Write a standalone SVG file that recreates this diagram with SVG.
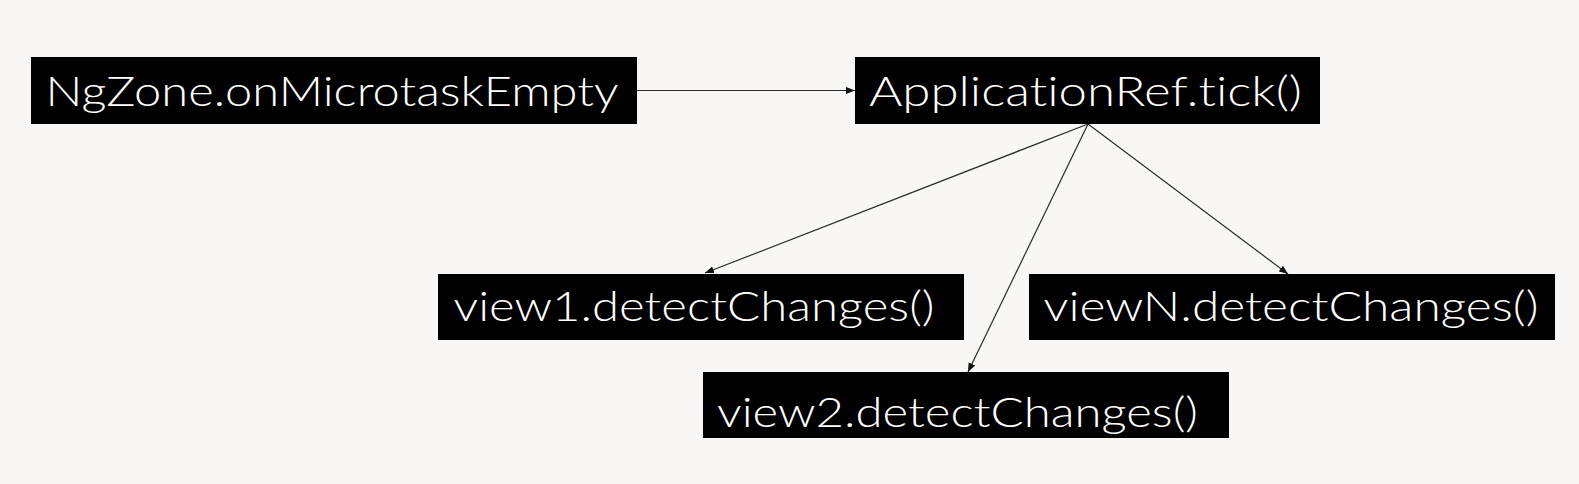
<svg xmlns="http://www.w3.org/2000/svg" width="1579" height="484" viewBox="0 0 1579 484">
<style>
.box{fill:#000}
.lbl{fill:#fff;font-family:Lato,"Open Sans",sans-serif;font-size:42px;font-weight:300;font-variant-ligatures:none}
.edge{stroke:#2a2a2a;stroke-width:1.2;fill:none}
</style>
<defs>
<marker id="ah" viewBox="0 0 10 10" refX="10" refY="5" markerWidth="9" markerHeight="9" markerUnits="userSpaceOnUse" orient="auto">
<path d="M0,1 L10,5 L0,9 z" fill="#111"/>
</marker>
</defs>
<rect width="1579" height="484" fill="#f8f7f6"/>
<g id="connectors">
<line class="edge" x1="637" y1="90.5" x2="855" y2="90.5" marker-end="url(#ah)"/>
<line class="edge" x1="1088" y1="124" x2="705" y2="273" marker-end="url(#ah)"/>
<line class="edge" x1="1088" y1="124" x2="968" y2="372" marker-end="url(#ah)"/>
<line class="edge" x1="1088" y1="124" x2="1288" y2="274" marker-end="url(#ah)"/>
</g>
<g id="ngzone">
<rect class="box" x="31" y="57" width="606" height="67"/>
<text class="lbl" x="45.5" y="106" textLength="573" lengthAdjust="spacingAndGlyphs">NgZone.onMicrotaskEmpty</text>
</g>
<g id="appref">
<rect class="box" x="855" y="57" width="465" height="67"/>
<text class="lbl" x="869" y="106" textLength="433" lengthAdjust="spacingAndGlyphs">ApplicationRef.tick()</text>
</g>
<g id="view1">
<rect class="box" x="438" y="274" width="526" height="66"/>
<text class="lbl" x="453.5" y="321" textLength="481" lengthAdjust="spacingAndGlyphs">view1.detectChanges()</text>
</g>
<g id="view2">
<rect class="box" x="703" y="372" width="526" height="66"/>
<text class="lbl" x="717" y="427" textLength="481" lengthAdjust="spacingAndGlyphs">view2.detectChanges()</text>
</g>
<g id="viewN">
<rect class="box" x="1029" y="274" width="526" height="66"/>
<text class="lbl" x="1043.5" y="321" textLength="495" lengthAdjust="spacingAndGlyphs">viewN.detectChanges()</text>
</g>
</svg>
